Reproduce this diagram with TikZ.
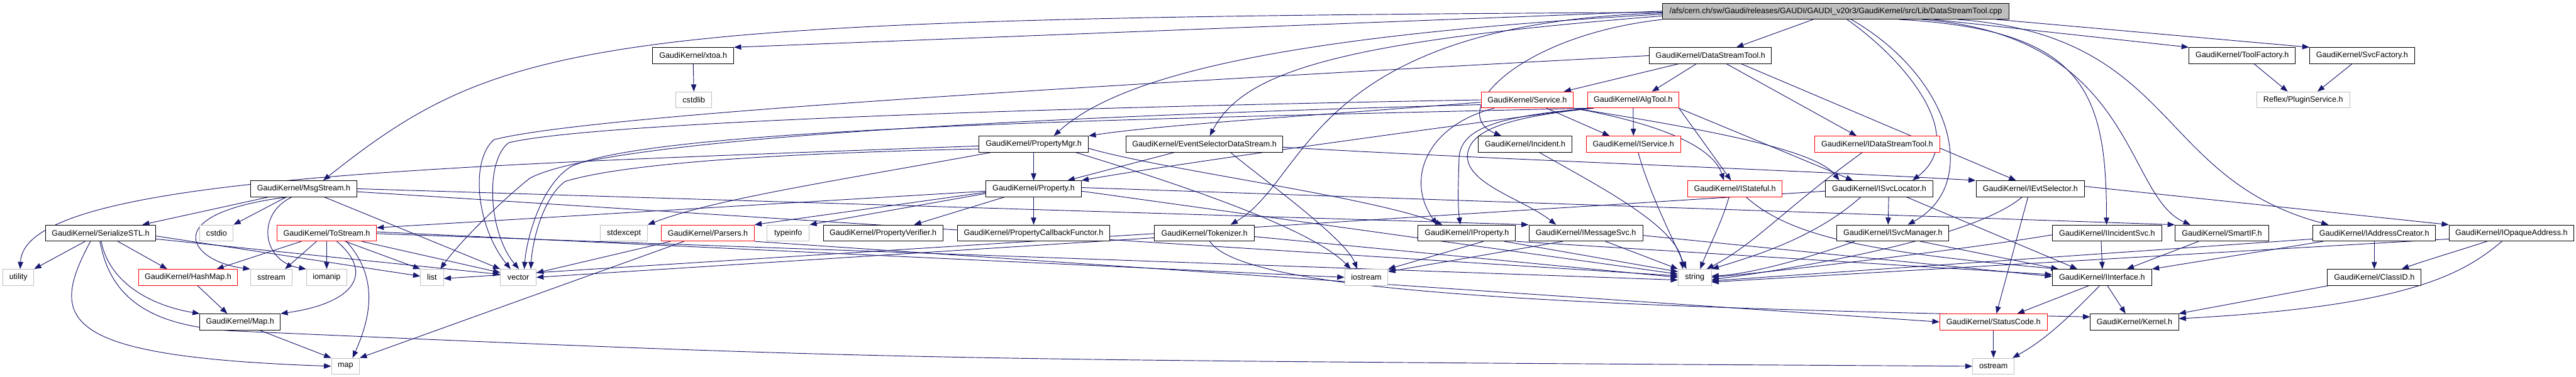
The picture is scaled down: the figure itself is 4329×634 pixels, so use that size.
\documentclass[tikz,border=0pt]{standalone}
\usepackage{fontspec}
\setmainfont{Liberation Sans}
\usetikzlibrary{arrows.meta}
\definecolor{edgec}{HTML}{191970}
\definecolor{gbord}{HTML}{BFBFBF}
\definecolor{rbord}{HTML}{FF0000}
\definecolor{rootf}{HTML}{BFBFBF}
\pgfdeclarelayer{bg}
\pgfsetlayers{bg,main}
\begin{document}
\begin{tikzpicture}[x=1pt,y=-1pt,
  nb/.style={draw=black, fill=white, line width=1pt, rectangle, minimum height=27pt, inner sep=0pt, font=\fontsize{13.3pt}{15pt}\selectfont},
  nr/.style={nb, draw=rbord},
  ng/.style={nb, draw=gbord},
  nroot/.style={nb, fill=rootf},
  e/.style={draw=edgec, line width=1pt, -{Triangle[length=12pt,width=9pt]}}]
\useasboundingbox (0,0) rectangle (4329,634);
% row 1
\node[nroot, minimum width=582pt] (root) at (3085,18.8) {/afs/cern.ch/sw/Gaudi/releases/GAUDI/GAUDI\_v20r3/GaudiKernel/src/Lib/DataStreamTool.cpp};
% row 2
\node[nb, minimum width=136pt] (xtoa) at (1165,93.5) {GaudiKernel/xtoa.h};
\node[nb, minimum width=205pt] (dst) at (2874.5,93.5) {GaudiKernel/DataStreamTool.h};
\node[nb, minimum width=179pt] (toolf) at (3768,93.5) {GaudiKernel/ToolFactory.h};
\node[nb, minimum width=176pt] (svcf) at (3969.5,93.5) {GaudiKernel/SvcFactory.h};
% row 3
\node[ng, minimum width=60pt] (cstdlib) at (1166,168) {cstdlib};
\node[nr, minimum width=155pt] (service) at (2566.5,168) {GaudiKernel/Service.h};
\node[nr, minimum width=153pt] (algtool) at (2744.5,168) {GaudiKernel/AlgTool.h};
\node[ng, minimum width=156pt] (plugin) at (3870.5,168) {Reflex/PluginService.h};
% row 4
\node[nb, minimum width=184pt] (pmgr) at (1737,242.5) {GaudiKernel/PropertyMgr.h};
\node[nb, minimum width=263.5pt] (esds) at (2024,242.5) {GaudiKernel/EventSelectorDataStream.h};
\node[nb, minimum width=158pt] (incident) at (2563,242.5) {GaudiKernel/Incident.h};
\node[nr, minimum width=159pt] (iservice) at (2745,242.5) {GaudiKernel/IService.h};
\node[nr, minimum width=210pt] (idst) at (3154.6,242.5) {GaudiKernel/IDataStreamTool.h};
% row 5
\node[nb, minimum width=179pt] (msgstream) at (510.5,317.5) {GaudiKernel/MsgStream.h};
\node[nb, minimum width=160pt] (property) at (1737,317.5) {GaudiKernel/Property.h};
\node[nr, minimum width=159pt] (istateful) at (2915.5,317.5) {GaudiKernel/IStateful.h};
\node[nb, minimum width=180pt] (isvcloc) at (3158,317.5) {GaudiKernel/ISvcLocator.h};
\node[nb, minimum width=182.6pt] (ievtsel) at (3412,317.5) {GaudiKernel/IEvtSelector.h};
% row 6
\node[nb, minimum width=185.5pt] (serial) at (169,392) {GaudiKernel/SerializeSTL.h};
\node[ng, minimum width=56pt] (cstdio) at (364,392) {cstdio};
\node[nr, minimum width=167pt] (tostream) at (549,392) {GaudiKernel/ToStream.h};
\node[ng, minimum width=79pt] (stdexcept) at (1048.5,392) {stdexcept};
\node[nr, minimum width=156pt] (parsers) at (1189.5,392) {GaudiKernel/Parsers.h};
\node[ng, minimum width=71pt] (typeinfo) at (1324.5,392) {typeinfo};
\node[nb, minimum width=201pt] (pverif) at (1484,392) {GaudiKernel/PropertyVerifier.h};
\node[nb, minimum width=256pt] (pcallback) at (1737,392) {GaudiKernel/PropertyCallbackFunctor.h};
\node[nb, minimum width=167.5pt] (tokenizer) at (2024,392) {GaudiKernel/Tokenizer.h};
\node[nb, minimum width=164pt] (iproperty) at (2465,392) {GaudiKernel/IProperty.h};
\node[nb, minimum width=191.5pt] (imsgsvc) at (2665,392) {GaudiKernel/IMessageSvc.h};
\node[nb, minimum width=188pt] (isvcmgr) at (3181,392) {GaudiKernel/ISvcManager.h};
\node[nb, minimum width=183.5pt] (iincsvc) at (3541,392) {GaudiKernel/IIncidentSvc.h};
\node[nb, minimum width=157.7pt] (smartif) at (3734,392) {GaudiKernel/SmartIF.h};
\node[nb, minimum width=206pt] (iaddrc) at (3990,392) {GaudiKernel/IAddressCreator.h};
\node[nb, minimum width=209.5pt] (iopaque) at (4220.5,392) {GaudiKernel/IOpaqueAddress.h};
% row 7
\node[ng, minimum width=51.5pt] (utility) at (31,466.5) {utility};
\node[nr, minimum width=166.5pt] (hashmap) at (316,466.5) {GaudiKernel/HashMap.h};
\node[ng, minimum width=70pt] (sstream) at (456,466.5) {sstream};
\node[ng, minimum width=68pt] (iomanip) at (549,466.5) {iomanip};
\node[ng, minimum width=38.5pt] (list) at (726,466.5) {list};
\node[ng, minimum width=60pt] (vector) at (871,466.5) {vector};
\node[ng, minimum width=72.5pt] (iostream) at (2296,466.5) {iostream};
\node[ng, minimum width=55.6pt] (string) at (2848,466.5) {string};
\node[nb, minimum width=167pt] (iinterface) at (3532.5,466.5) {GaudiKernel/IInterface.h};
\node[nb, minimum width=157.6pt] (classid) at (3990,466.5) {GaudiKernel/ClassID.h};
% row 8
\node[nb, minimum width=135pt] (maph) at (403.5,541.5) {GaudiKernel/Map.h};
\node[nr, minimum width=180.6pt] (statuscode) at (3350,541.5) {GaudiKernel/StatusCode.h};
\node[nb, minimum width=148pt] (kernel) at (3587,541.5) {GaudiKernel/Kernel.h};
% row 9
\node[ng, minimum width=47pt] (map) at (580.5,616) {map};
\node[ng, minimum width=70pt] (ostream) at (3350,616) {ostream};

\begin{pgfonlayer}{bg}
% root
\draw[e] (root.west) -- (xtoa.north east);
\draw[e] ([yshift=-2pt]root.west) .. controls (1000,30) and (850,60) .. ([xshift=32.5pt]msgstream.north);
\draw[e] ([xshift=-38pt]root.south) -- ([xshift=43.5pt]dst.north);
\draw[e] ([xshift=165pt]root.south) -- (toolf.north west);
\draw[e] ([xshift=270pt]root.south) -- (svcf.north west);
\draw[e] ([yshift=-5pt]root.west) .. controls (2250,55) and (1900,110) .. ([xshift=34pt]pmgr.north);
\draw[e] ([yshift=-8pt]root.west) .. controls (2250,70) and (2090,120) .. ([xshift=9pt]esds.north);
\draw[e] (root.south west) .. controls (2550,60) and (2430,190) .. ([xshift=-40pt]incident.north);
\draw[e] ([yshift=-3pt]root.west) .. controls (2200,40) and (2200,300) .. ([xshift=44pt]tokenizer.north);
\draw[e] ([xshift=19pt]root.south) .. controls (3200,100) and (3310,230) .. ([xshift=56pt]isvcloc.north);
\draw[e] ([xshift=26pt]root.south) .. controls (3280,130) and (3330,310) .. ([xshift=25pt]isvcmgr.north);
\draw[e] ([xshift=107pt]root.south) .. controls (3500,50) and (3540,150) .. ([xshift=-1pt]iincsvc.north);
\draw[e] ([xshift=145pt]root.south) .. controls (3590,60) and (3570,330) .. ([xshift=-53pt]smartif.north);
\draw[e] ([xshift=205pt]root.south) .. controls (3660,60) and (3620,300) .. ([xshift=-77pt]iaddrc.north);
% simple ones
\draw[e] (xtoa.south) -- (cstdlib.north);
\draw[e] ([xshift=20pt]toolf.south) -- ([xshift=-26pt]plugin.north);
\draw[e] ([xshift=-17pt]svcf.south) -- ([xshift=24pt]plugin.north);
% DataStreamTool.h
\draw[e] ([xshift=-54pt]dst.south) -- ([xshift=61.5pt]service.north);
\draw[e] ([xshift=-24pt]dst.south) -- ([xshift=31.5pt]algtool.north);
\draw[e] ([xshift=27pt]dst.south) -- ([xshift=-34.6pt]idst.north);
\draw[e] ([xshift=52pt]dst.south) -- ([xshift=-24pt]ievtsel.north);
\draw[e] (dst.west) .. controls (2000,135) and (1000,190) .. (830,235) .. controls (790,270) and (800,380) .. ([xshift=-13pt]vector.north);
% Service.h
\draw[e] ([xshift=32.5pt]service.south) -- ([xshift=-40pt]iservice.north);
\draw[e] (service.west) .. controls (1800,180) and (1000,205) .. (855,240) .. controls (815,270) and (820,390) .. ([xshift=1pt]vector.north);
\draw[e] ([yshift=-8pt]service.west) .. controls (1600,200) and (1000,240) .. (890,300) .. controls (840,340) and (770,410) .. ([xshift=14pt]list.north);
\draw[e] ([yshift=-4pt]service.west) .. controls (2200,195) and (1950,210) .. (pmgr.north east);
\draw[e] ([xshift=-55.5pt]service.south) .. controls (2400,210) and (2360,300) .. ([xshift=-50pt]iproperty.north);
\draw[e] (service.south east) .. controls (2850,215) and (3050,250) .. ([xshift=-67pt]isvcloc.north);
\draw[e] (service.south east) .. controls (2800,210) and (2880,250) .. ([xshift=-18.5pt]istateful.north);
% AlgTool.h
\draw[e] (algtool.south) -- (iservice.north);
\draw[e] ([xshift=-70pt]algtool.south) .. controls (2520,195) and (2455,215) .. (2452,265) .. controls (2450,320) and (2450,350) .. ([xshift=-11pt]iproperty.north);
\draw[e] ([xshift=-66pt]algtool.south) .. controls (2530,197) and (2468,220) .. (2466,262) .. controls (2465,310) and (2560,335) .. ([xshift=-50pt]imsgsvc.north);
\draw[e] (algtool.south west) .. controls (1900,200) and (1100,215) .. (960,280) .. controls (910,310) and (885,400) .. ([xshift=10pt]vector.north);
\draw[e] (algtool.south west) .. controls (2300,230) and (1950,280) .. (property.north east);
\draw[e] (algtool.south east) -- ([xshift=-44pt]isvcloc.north);
\draw[e] (algtool.south east) -- ([xshift=-6.5pt]istateful.north);
% PropertyMgr.h
\draw[e] (pmgr.south) -- (property.north);
\draw[e] ([yshift=-3pt]pmgr.west) .. controls (700,280) and (40,300) .. ([xshift=3pt]utility.north);
\draw[e] ([xshift=-72pt]pmgr.south) .. controls (1400,305) and (1200,335) .. (stdexcept.north east);
\draw[e] ([xshift=71pt]pmgr.south) .. controls (1950,300) and (2200,380) .. ([xshift=-26pt]iostream.north);
\draw[e] ([yshift=-7pt]pmgr.east) .. controls (1950,285) and (2300,330) .. ([xshift=-41pt]iproperty.north);
\draw[e] ([yshift=-8pt]pmgr.west) .. controls (1300,258) and (1050,275) .. (950,305) .. controls (915,330) and (895,400) .. ([xshift=21pt]vector.north);
% EventSelectorDataStream.h
\draw[e] ([xshift=-51pt]esds.south) -- ([xshift=57pt]property.north);
\draw[e] ([yshift=-5pt]esds.east) .. controls (2500,268) and (3000,285) .. (ievtsel.north west);
\draw[e] ([xshift=44pt]esds.south) .. controls (2120,300) and (2260,400) .. ([xshift=-15pt]iostream.north);
% Incident, IService, IDataStreamTool, IStateful
\draw[e] ([xshift=24pt]incident.south) .. controls (2680,310) and (2820,380) .. ([xshift=-20pt]string.north);
\draw[e] ([xshift=8pt]iservice.south) .. controls (2770,320) and (2810,400) .. ([xshift=-14pt]string.north);
\draw[e] ([xshift=-25pt]idst.south) .. controls (3000,350) and (2950,410) .. ([xshift=20pt]string.north);
\draw[e] ([xshift=-10pt]istateful.south) .. controls (2895,370) and (2870,420) .. ([xshift=9pt]string.north);
\draw[e] ([xshift=19pt]istateful.south) .. controls (3010,400) and (3150,425) .. ([xshift=-73.5pt]iinterface.north);
% ISvcLocator
\draw[e] ([xshift=16pt]isvcloc.south) -- ([xshift=-8pt]isvcmgr.north);
\draw[e] ([xshift=46pt]isvcloc.south) -- ([xshift=-41.5pt]iinterface.north);
\draw[e] ([xshift=-31pt]isvcloc.south) .. controls (3050,400) and (2950,430) .. (string.north east);
\draw[e] ([yshift=-4pt]isvcloc.west) -- ([yshift=-2pt]list.east);
% ISvcManager
\draw[e] ([xshift=-64pt]isvcmgr.south) .. controls (3050,430) and (2950,460) .. ([yshift=2pt]string.east);
\draw[e] ([xshift=46pt]isvcmgr.south) -- ([xshift=-73.5pt]iinterface.north);
% IEvtSelector
\draw[e] ([xshift=-4pt]ievtsel.south) -- ([xshift=5pt]statuscode.north);
\draw[e] ([yshift=4pt]ievtsel.east) -- (iopaque.north west);
\draw[e] ([xshift=-14pt]ievtsel.south) .. controls (3330,390) and (3100,440) .. ([yshift=-4pt]string.east);
% IIncidentSvc, SmartIF, IAddressCreator, IOpaqueAddress
\draw[e] ([xshift=-10pt]iincsvc.south) -- ([xshift=0.5pt]iinterface.north);
\draw[e] ([yshift=-3pt]iincsvc.west) .. controls (3300,420) and (3000,455) .. (string.east);
\draw[e] ([xshift=-39pt]smartif.south) -- ([xshift=41.5pt]iinterface.north);
\draw[e] ([xshift=-86pt]iaddrc.south) -- (iinterface.north east);
\draw[e] (iaddrc.south) -- (classid.north);
\draw[e] ([yshift=-10pt]iaddrc.west) -- ([yshift=-6pt]string.east);
\draw[e] ([yshift=-10pt]iopaque.west) -- ([yshift=-8pt]string.east);
\draw[e] ([xshift=-41pt]iopaque.south) .. controls (4120,425) and (4070,440) .. ([xshift=46pt]classid.north);
\draw[e] ([xshift=-16pt]iopaque.south) .. controls (4140,460) and (4050,515) .. ([yshift=5.5pt]kernel.east);
% IInterface, ClassID, StatusCode
\draw[e] ([xshift=-77pt]classid.south) -- (kernel.north east);
\draw[e] ([xshift=-22pt]iinterface.south) -- ([xshift=40pt]statuscode.north);
\draw[e] ([xshift=9pt]iinterface.south) -- ([xshift=-15pt]kernel.north);
\draw[e] ([xshift=-4pt]iinterface.south) .. controls (3480,530) and (3440,570) .. ([xshift=32pt]ostream.north);
\draw[e] (statuscode.south) -- (ostream.north);
% MsgStream.h
\draw[e] ([xshift=-59.5pt]msgstream.south) -- ([xshift=70pt]serial.north);
\draw[e] ([xshift=-29.5pt]msgstream.south) -- (cstdio.north east);
\draw[e] ([xshift=-28pt]msgstream.south) .. controls (260,360) and (320,440) .. (sstream.north west);
\draw[e] ([xshift=-20pt]msgstream.south) .. controls (430,360) and (440,440) .. (iomanip.north west);
\draw[e] ([xshift=34.5pt]msgstream.south) -- (vector.north west);
\draw[e] (msgstream.east) -- (imsgsvc.north west);
\draw[e] ([yshift=-5pt]msgstream.east) -- ([yshift=2.5pt]string.west);
% SerializeSTL.h
\draw[e] ([xshift=-26pt]serial.south) -- (utility.north east);
\draw[e] ([xshift=29pt]serial.south) -- ([xshift=-35pt]hashmap.north);
\draw[e] ([xshift=1pt]serial.south) .. controls (185,480) and (260,515) .. (maph.north west);
\draw[e] ([xshift=-17pt]serial.south) .. controls (80,540) and (100,600) .. (map.west);
\draw[e] ([xshift=-1pt]serial.south) .. controls (185,500) and (250,550) .. (400,557) .. controls (1500,605) .. (ostream.west);
\draw[e] ([yshift=-5pt]serial.east) -- ([yshift=2pt]list.west);
\draw[e] ([yshift=-10pt]serial.east) -- ([yshift=5pt]vector.west);
% ToStream.h
\draw[e] ([xshift=-42.5pt]tostream.south) -- ([xshift=48pt]hashmap.north);
\draw[e] ([xshift=-17pt]tostream.south) -- ([xshift=23pt]sstream.north);
\draw[e] (tostream.south) -- (iomanip.north);
\draw[e] ([xshift=31pt]tostream.south) -- (list.north west);
\draw[e] ([xshift=17pt]tostream.south) .. controls (630,460) and (595,510) .. (maph.north east);
\draw[e] ([xshift=33pt]tostream.south) .. controls (640,470) and (620,540) .. ([xshift=12pt]map.north);
\draw[e] ([xshift=59pt]tostream.south) -- ([yshift=8pt]vector.west);
\draw[e] ([yshift=2pt]tostream.east) -- (iostream.west);
\draw[e] ([yshift=-1pt]tostream.east) -- ([yshift=-4.5pt]string.west);
% HashMap, Map
\draw[e] ([xshift=16pt]hashmap.south) -- ([xshift=-21.5pt]maph.north);
\draw[e] ([xshift=33pt]maph.south) -- (map.north west);
% Parsers.h
\draw[e] ([xshift=-62.5pt]parsers.south) -- ([yshift=7.5pt]vector.east);
\draw[e] ([xshift=-40pt]parsers.south) -- (map.north east);
\draw[e] (parsers.south east) -- (statuscode.west);
% Property.h
\draw[e] ([xshift=-49pt]property.south) -- ([xshift=52pt]pverif.north);
\draw[e] (property.south) -- (pcallback.north);
\draw[e] ([yshift=-8pt]property.west) -- (typeinfo.north east);
\draw[e] ([yshift=-6pt]property.west) -- (parsers.north east);
\draw[e] ([yshift=-4pt]property.west) -- ([yshift=-5pt]tostream.north east);
\draw[e] ([yshift=2pt]property.east) -- (smartif.north west);
\draw[e] ([yshift=-4pt]property.east) -- ([yshift=5.5pt]string.west);
% Tokenizer.h
\draw[e] ([yshift=-8pt]tokenizer.west) -- (vector.east);
\draw[e] ([yshift=-6pt]tokenizer.east) -- (string.west);
\draw[e] ([xshift=9pt]tokenizer.south) .. controls (2090,490) and (2600,515) .. ([yshift=8.5pt]kernel.west);
% IProperty, IMessageSvc
\draw[e] ([xshift=28pt]iproperty.south) -- (iostream.north east);
\draw[e] ([xshift=63pt]iproperty.south) -- ([yshift=9.5pt]string.west);
\draw[e] (iproperty.south east) -- ([yshift=4.5pt]iinterface.west);
\draw[e] ([xshift=-39pt]imsgsvc.south) -- ([yshift=9.5pt]iostream.east);
\draw[e] ([xshift=33pt]imsgsvc.south) -- (string.north west);
\draw[e] ([yshift=-4pt]imsgsvc.east) -- ([yshift=1.5pt]iinterface.west);
\end{pgfonlayer}
\end{tikzpicture}
\end{document}
